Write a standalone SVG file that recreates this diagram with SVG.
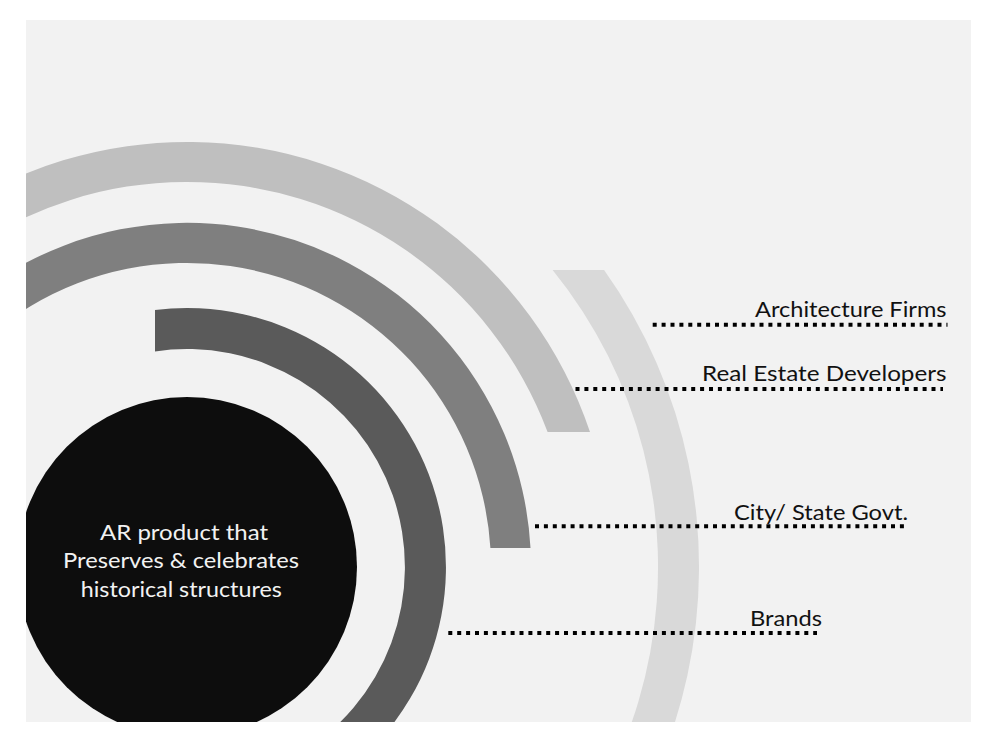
<svg xmlns="http://www.w3.org/2000/svg" width="996" height="744" viewBox="0 0 996 744">
  <defs>
    <clipPath id="panel">
      <rect x="26" y="20" width="945" height="702"/>
    </clipPath>
  </defs>
  <style>
    .lbl { font-family: Lato, "Noto Sans", "Liberation Sans", sans-serif; font-size: 21px; font-weight: 400; fill: #111111; }
    .core { font-family: Lato, "Noto Sans", "Liberation Sans", sans-serif; font-size: 20.5px; font-weight: 400; fill: #f2f2f2; text-anchor: middle; }
    .dots { fill: none; stroke: #000000; stroke-width: 4; stroke-dasharray: 4 4.9; }
  </style>
  <rect x="0" y="0" width="996" height="744" fill="#ffffff"/>
  <rect id="panel-bg" x="26" y="20" width="945" height="702" fill="#f2f2f2"/>
  <g id="rings" clip-path="url(#panel)">
    <g id="ring-outer">
      <path d="M604.1 270 A512 512 0 0 1 443 1010.4 L422.5 974.9 A471 471 0 0 0 552.6 270 Z" fill="#d9d9d9"/>
    </g>
    <g id="ring-3">
      <path d="M-212.4 421.6 A425 425 0 0 1 590 432 L547.6 432 A385 385 0 0 0 -174.8 435.3 Z" fill="#bfbfbf"/>
    </g>
    <g id="ring-2">
      <path d="M-136.3 449.3 A344 344 0 0 1 530.5 548 L490.4 548 A304 304 0 0 0 -98.7 463 Z" fill="#7f7f7f"/>
    </g>
    <g id="ring-1">
      <path d="M155 310 A259 259 0 0 1 316.5 791.3 L296 755.8 A218 218 0 0 0 155 351.4 Z" fill="#5a5a5a"/>
    </g>
    <g id="core">
      <circle cx="187" cy="567" r="170" fill="#0d0d0d"/>
    </g>
  </g>
  <g id="core-text">
    <text class="core" x="184" y="539.5" textLength="168" lengthAdjust="spacingAndGlyphs">AR product that</text>
    <text class="core" x="181" y="568" textLength="236" lengthAdjust="spacingAndGlyphs">Preserves &amp; celebrates</text>
    <text class="core" x="181.3" y="596.5" textLength="201" lengthAdjust="spacingAndGlyphs">historical structures</text>
  </g>
  <g id="connectors">
    <path class="dots" d="M652.7 324.7 H947.5"/>
    <path class="dots" d="M575.5 389 H943"/>
    <path class="dots" d="M535 526.3 H904"/>
    <path class="dots" d="M448.3 633 H817"/>
  </g>
  <g id="label-architecture">
    <text class="lbl" x="755" y="317" textLength="191.5" lengthAdjust="spacingAndGlyphs">Architecture Firms</text>
  </g>
  <g id="label-real-estate">
    <text class="lbl" x="702" y="380.5" textLength="244.5" lengthAdjust="spacingAndGlyphs">Real Estate Developers</text>
  </g>
  <g id="label-city">
    <text class="lbl" x="734" y="520" textLength="174" lengthAdjust="spacingAndGlyphs">City/ State Govt.</text>
  </g>
  <g id="label-brands">
    <text class="lbl" x="750" y="625.5" textLength="72" lengthAdjust="spacingAndGlyphs">Brands</text>
  </g>
</svg>
